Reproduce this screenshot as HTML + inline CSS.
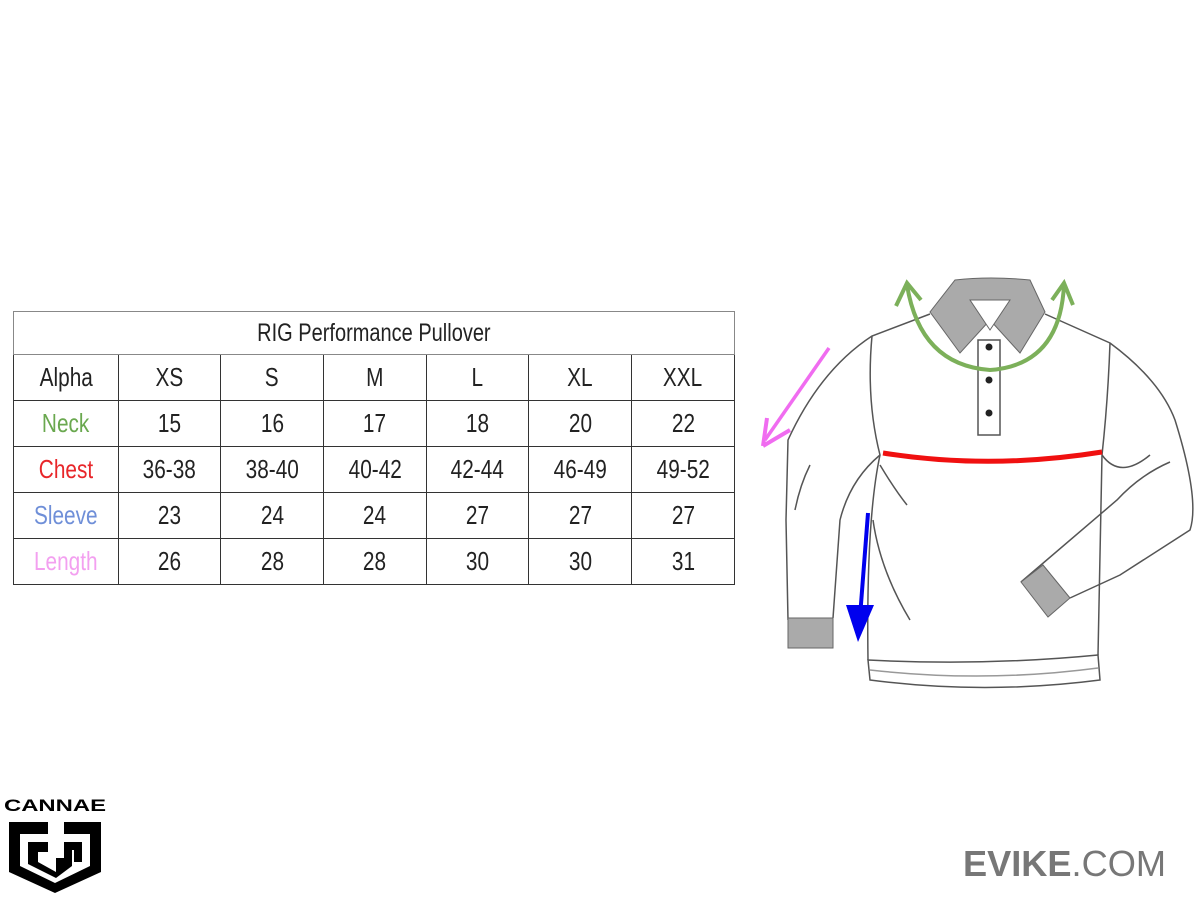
<!DOCTYPE html>
<html><head><meta charset="utf-8"><style>
body{margin:0;width:1200px;height:900px;background:#fff;position:relative;overflow:hidden;font-family:"Liberation Sans",sans-serif}
table{position:absolute;left:13px;top:311px;border-collapse:collapse;width:722px}
td{border:1.5px solid #333;text-align:center;font-size:26px;color:#222;height:45px;padding:0;width:103px}
td span{display:inline-block;transform:scaleX(.8)}
.t td{height:42px;border-color:#888;font-size:25px}
</style></head><body>
<table>
<tr class="t"><td colspan="7"><span>RIG Performance Pullover</span></td></tr>
<tr><td style="width:104px"><span>Alpha</span></td><td><span>XS</span></td><td><span>S</span></td><td><span>M</span></td><td><span>L</span></td><td><span>XL</span></td><td><span>XXL</span></td></tr>
<tr><td><span style="color:#6aa84f">Neck</span></td><td><span>15</span></td><td><span>16</span></td><td><span>17</span></td><td><span>18</span></td><td><span>20</span></td><td><span>22</span></td></tr>
<tr><td><span style="color:#e8262a">Chest</span></td><td><span>36-38</span></td><td><span>38-40</span></td><td><span>40-42</span></td><td><span>42-44</span></td><td><span>46-49</span></td><td><span>49-52</span></td></tr>
<tr><td><span style="color:#6f8fd8">Sleeve</span></td><td><span>23</span></td><td><span>24</span></td><td><span>24</span></td><td><span>27</span></td><td><span>27</span></td><td><span>27</span></td></tr>
<tr><td><span style="color:#f3a0f0">Length</span></td><td><span>26</span></td><td><span>28</span></td><td><span>28</span></td><td><span>30</span></td><td><span>30</span></td><td><span>31</span></td></tr>
</table>
<svg width="1200" height="900" style="position:absolute;left:0;top:0">
<g fill="none" stroke="#555" stroke-width="1.5">
<path d="M930,314 L872,336 Q820,370 788,440 L786,520 L788,620"/>
<path d="M872,336 Q866,400 880,455 Q866,520 868,660"/>
<path d="M1045,314 L1110,343 Q1160,380 1175,420 Q1200,500 1190,530 L1120,575 L1070,598"/>
<path d="M1110,343 Q1108,400 1102,455 Q1100,560 1098,655"/>
<path d="M1102,455 Q1120,480 1150,455"/>
<path d="M1021,582 L1117,500 Q1140,475 1170,462"/>
<path d="M868,660 Q985,666 1098,655 L1100,680 Q985,695 870,680 Z"/>
<path d="M870,670 Q985,683 1098,668" stroke="#999"/>
<path d="M833,618 L840,520 Q850,480 880,455"/>
<path d="M880,465 Q895,490 907,505"/>
<path d="M873,520 Q880,570 910,620"/>
<rect x="978" y="340" width="22" height="95" fill="#fff"/>
<path d="M810,465 Q800,485 795,510"/>
</g>
<path d="M955,280 Q990,276 1030,280 L1045,312 L1020,353 L990,320 L960,353 L930,312 Z" fill="#aaa" stroke="#666"/>
<path d="M970,300 L1010,300 L990,330 Z" fill="#fff" stroke="#666"/>
<rect x="788" y="618" width="45" height="30" fill="#aaa" stroke="#666"/>
<path d="M1021,582 L1043,565 L1070,598 L1048,617 Z" fill="#aaa" stroke="#666"/>
<circle cx="989" cy="347" r="3.5" fill="#222"/><circle cx="989" cy="380" r="3.5" fill="#222"/><circle cx="989" cy="413" r="3.5" fill="#222"/>
<path d="M907,285 Q920,365 990,370 Q1060,365 1064,285" fill="none" stroke="#7cb05a" stroke-width="4"/>
<path d="M896,306 L907,283 L921,300 M1052,300 L1064,283 L1073,305" fill="none" stroke="#7cb05a" stroke-width="4"/>
<path d="M883,453 Q990,470 1102,452" fill="none" stroke="#f01010" stroke-width="5"/>
<path d="M829,348 L765,440" stroke="#f06cf0" stroke-width="3.5"/>
<path d="M763,446 L767,418 M763,446 L790,430" stroke="#f06cf0" stroke-width="4"/>
<path d="M868,513 L859,630" stroke="#0000ee" stroke-width="4"/>
<path d="M846,605 L858,642 L874,605 Z" fill="#0000ee"/>
<text x="4" y="810" font-family="Liberation Sans" font-weight="bold" font-size="15" textLength="102" lengthAdjust="spacingAndGlyphs" transform="translate(0,-80) scale(1,1.1)" style="transform-origin:0 0">CANNAE</text>
<!-- shield -->
<path d="M9,822 L48,822 L48,834 L20,834 L20,866 L55,883 L90,866 L90,834 L64,834 L64,822 L101,822 L101,872 L55,893 L9,872 Z" fill="#000"/>
<path d="M28,842 L48,842 L48,852 L38,852 L38,862 L56,872 L56,858 L64,858 L64,842 L82,842 L82,862 L74,862 L74,850 L72,850 L72,866 L56,878 L28,864 Z" fill="#000"/>
<text x="963" y="876" font-family="Liberation Sans" font-size="36" fill="#777" textLength="203" lengthAdjust="spacingAndGlyphs"><tspan font-weight="bold">EVIKE</tspan>.COM</text>
</svg>
</body></html>
